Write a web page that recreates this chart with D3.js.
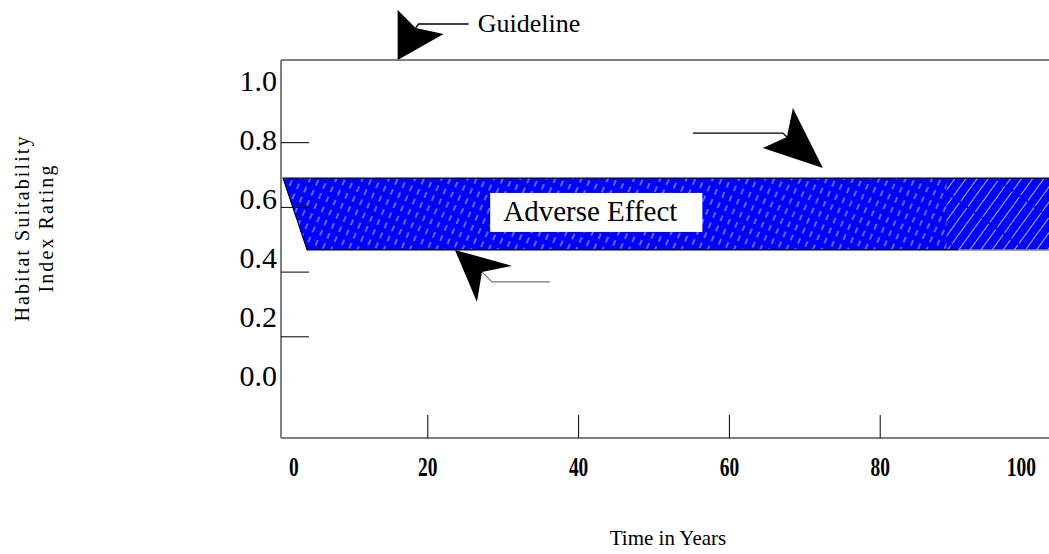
<!DOCTYPE html>
<html>
<head>
<meta charset="utf-8">
<script src="https://cdn.jsdelivr.net/npm/d3@7/dist/d3.min.js"></script>
<style>
  html, body { margin: 0; padding: 0; background: #fff; }
  svg { display: block; }
  text { font-family: "Liberation Serif", "Times New Roman", serif; fill: #000; }
</style>
</head>
<body>
<svg id="chart" width="1049" height="554"></svg>
<script>
// ---------------- data ----------------
const xTickValues = [20, 40, 60, 80];
const xLabelValues = [0, 20, 40, 60, 80, 100];
const xLabelTexts = ["0", "20", "40", "60", "80", "100"];
const yTickValues = [0.2, 0.4, 0.6, 0.8];
const yLabelValues = [0.0, 0.2, 0.4, 0.6, 0.8, 1.0];
const yLabelTexts = ["0.0", "0.2", "0.4", "0.6", "0.8", "1.0"];

// adverse-effect band: [time, rating] corners
const bandHigh = 0.67;
const bandLow = 0.427;
const bandStartHigh = 0.8;
const bandStartLow = 4;
const bandEnd = 103;
const bandAltStart = 88.8; // where the hatching changes near the right end

const guidelineValue = 1.07;
const adverseLabel = { text: "Adverse Effect", t: 30, v: 0.525 };
const guidelineLabel = "Guideline";
const arrowTips = [
  { id: "guide", t: 16, v: guidelineValue },
  { id: "upper", t: 72.4, v: 0.704 },
  { id: "lower", t: 23.6, v: bandLow }
];

// ---------------- layout ----------------
const W = 1049, H = 554;
const frame = { left: 281, right: 1049, top: 60, bottom: 438 };

const x = d3.scaleLinear().domain([0, 100]).range([277, 1031]);
const y = d3.scaleLinear().domain([-0.21, 1.07]).range([frame.bottom, frame.top]);
// tick marks are drawn slightly lower than their labels in the original
const yTick = d3.scaleLinear().domain([0, 1]).range([401.5, 78]);

const svg = d3.select("#chart");
const defs = svg.append("defs");

defs.append("clipPath").attr("id", "plotClip")
  .append("rect").attr("x", 0).attr("y", 0).attr("width", frame.right).attr("height", H);

const p1 = defs.append("pattern").attr("id", "hatch")
  .attr("patternUnits", "userSpaceOnUse").attr("width", 8).attr("height", 11)
  .attr("patternTransform", "rotate(24)");
p1.append("rect").attr("width", 8).attr("height", 11).attr("fill", "#0000ff");
p1.append("line").attr("x1", 4).attr("x2", 4).attr("y1", 2).attr("y2", 8)
  .attr("stroke", "#ffffff").attr("stroke-width", 0.8);

const p2 = defs.append("pattern").attr("id", "hatch2")
  .attr("patternUnits", "userSpaceOnUse").attr("width", 9).attr("height", 40)
  .attr("patternTransform", "rotate(36)");
p2.append("rect").attr("width", 9).attr("height", 40).attr("fill", "#0000ff");
p2.append("line").attr("x1", 4.5).attr("x2", 4.5).attr("y1", 0).attr("y2", 38)
  .attr("stroke", "#ffffff").attr("stroke-width", 0.7);

// ---------------- band ----------------
const line = d3.line().x(d => x(d[0])).y(d => y(d[1]));
const bandPoly = [[bandStartHigh, bandHigh], [bandEnd, bandHigh], [bandEnd, bandLow], [bandStartLow, bandLow]];
const g = svg.append("g").attr("clip-path", "url(#plotClip)");
g.append("path").attr("d", line(bandPoly) + "Z")
  .attr("fill", "url(#hatch)").attr("stroke", "none");
g.append("path").attr("d", line([[bandAltStart, bandHigh], [bandEnd, bandHigh], [bandEnd, bandLow], [bandAltStart, bandLow]]) + "Z")
  .attr("fill", "url(#hatch2)").attr("stroke", "none");
// outline: top, left slant, bottom
g.append("path").attr("d", line([[bandEnd, bandHigh], [bandStartHigh, bandHigh], [bandStartLow, bandLow], [bandAltStart + 1.5, bandLow]]))
  .attr("fill", "none").attr("stroke", "#000").attr("stroke-width", 1.2);
g.append("path").attr("d", line([[bandAltStart + 1.5, bandLow], [bandEnd, bandLow]]))
  .attr("fill", "none").attr("stroke", "#888").attr("stroke-width", 1.5);

// ---------------- frame / axes ----------------
svg.append("line").attr("x1", frame.left).attr("x2", frame.right)
  .attr("y1", y(guidelineValue)).attr("y2", y(guidelineValue))
  .attr("stroke", "#808080").attr("stroke-width", 2);
svg.append("line").attr("x1", frame.left).attr("x2", frame.left)
  .attr("y1", frame.top).attr("y2", frame.bottom)
  .attr("stroke", "#808080").attr("stroke-width", 2);
svg.append("line").attr("x1", frame.left).attr("x2", frame.right)
  .attr("y1", frame.bottom).attr("y2", frame.bottom)
  .attr("stroke", "#808080").attr("stroke-width", 2);

// y ticks
svg.selectAll(".ytick").data(yTickValues).enter().append("line")
  .attr("x1", frame.left).attr("x2", frame.left + 28)
  .attr("y1", d => yTick(d)).attr("y2", d => yTick(d))
  .attr("stroke", "#000").attr("stroke-width", 1);
// y labels
svg.selectAll(".ylab").data(yLabelValues).enter().append("text")
  .attr("x", frame.left - 4).attr("y", d => y(d) + 10)
  .attr("text-anchor", "end").attr("font-size", 30)
  .text((d, i) => yLabelTexts[i]);

// x ticks
svg.selectAll(".xtick").data(xTickValues).enter().append("line")
  .attr("x1", d => x(d)).attr("x2", d => x(d))
  .attr("y1", frame.bottom - 23).attr("y2", frame.bottom)
  .attr("stroke", "#000").attr("stroke-width", 1);
// x labels (narrow serif)
svg.selectAll(".xlab").data(xLabelValues).enter().append("text")
  .attr("transform", (d, i) => {
    let px = x(d);
    if (i === 0) px = x(d) + 12;
    if (i === xLabelValues.length - 1) px = x(d) + 5;
    return `translate(${px},476) scale(0.72,1)`;
  })
  .attr("text-anchor", (d, i) => i === 0 ? "start" : (i === xLabelValues.length - 1 ? "end" : "middle"))
  .attr("font-size", 27).attr("font-weight", "bold")
  .text((d, i) => xLabelTexts[i]);

// axis titles
svg.append("text").attr("x", 668).attr("y", 545).attr("text-anchor", "middle")
  .attr("font-size", 21).text("Time in Years");
const yt = svg.append("g").attr("transform", "translate(0,228) rotate(-90)");
yt.append("text").attr("x", 0).attr("y", 29).attr("text-anchor", "middle")
  .attr("font-size", 20).attr("letter-spacing", 2.1).text("Habitat Suitability");
yt.append("text").attr("x", 0).attr("y", 53).attr("text-anchor", "middle")
  .attr("font-size", 20).attr("letter-spacing", 2.1).text("Index Rating");

// ---------------- adverse effect label ----------------
const ax = x(adverseLabel.t), ay = y(adverseLabel.v);
const abox = svg.append("rect").attr("fill", "#fff");
const at = svg.append("text").attr("x", ax).attr("y", ay).attr("font-size", 29).text(adverseLabel.text);
const aw = at.node().getComputedTextLength();
abox.attr("x", ax - 13).attr("y", ay - 28).attr("width", aw + 38).attr("height", 39);

// ---------------- arrows ----------------
const shapes = {
  guide: { poly: [[0, -50], [18, -32], [46, -26], [0, 0]], leader: [[18, -32], [21, -36], [71, -36]], stroke: "#000" },
  upper: { poly: [[-30, -60], [0, 0], [-60, -20], [-36, -31]], leader: [[-36, -31], [-40, -35], [-130, -35]], stroke: "#000" },
  lower: { poly: [[0, 0], [57, 16], [27, 22], [22, 52]], leader: [[27, 22], [37, 32], [95, 32]], stroke: "#777" }
};
arrowTips.forEach(a => {
  const s = shapes[a.id];
  const gx = svg.append("g").attr("transform", `translate(${x(a.t)},${y(a.v)})`);
  gx.append("path").attr("d", d3.line()(s.leader)).attr("fill", "none")
    .attr("stroke", s.stroke).attr("stroke-width", 1.3);
  gx.append("path").attr("d", d3.line()(s.poly) + "Z").attr("fill", "#000");
  if (a.id === "guide") {
    gx.append("text").attr("x", 80).attr("y", -28).attr("font-size", 26).text(guidelineLabel);
  }
});
</script>
</body>
</html>
